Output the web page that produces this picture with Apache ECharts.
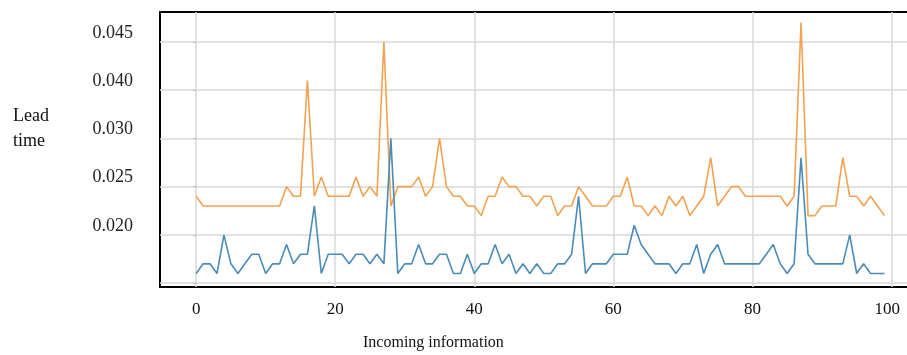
<!DOCTYPE html>
<html>
<head>
<meta charset="utf-8">
<script src="https://cdn.jsdelivr.net/npm/echarts@6/dist/echarts.min.js"></script>
<style>
html,body{margin:0;padding:0;background:#fff;}
#LeadChart{width:907px;height:355px;}
</style>
</head>
<body>
<div id="LeadChart"></div>
<script>
// values, one point per incoming information (0..99)
var upperSeries = [
	0.024, 0.023, 0.023, 0.023, 0.023, 0.023, 0.023, 0.023, 0.023, 0.023,
	0.023, 0.023, 0.023, 0.025, 0.024, 0.024, 0.036, 0.024, 0.026, 0.024,
	0.024, 0.024, 0.024, 0.026, 0.024, 0.025, 0.024, 0.040, 0.023, 0.025,
	0.025, 0.025, 0.026, 0.024, 0.025, 0.030, 0.025, 0.024, 0.024, 0.023,
	0.023, 0.022, 0.024, 0.024, 0.026, 0.025, 0.025, 0.024, 0.024, 0.023,
	0.024, 0.024, 0.022, 0.023, 0.023, 0.025, 0.024, 0.023, 0.023, 0.023,
	0.024, 0.024, 0.026, 0.023, 0.023, 0.022, 0.023, 0.022, 0.024, 0.023,
	0.024, 0.022, 0.023, 0.024, 0.028, 0.023, 0.024, 0.025, 0.025, 0.024,
	0.024, 0.024, 0.024, 0.024, 0.024, 0.023, 0.024, 0.042, 0.022, 0.022,
	0.023, 0.023, 0.023, 0.028, 0.024, 0.024, 0.023, 0.024, 0.023, 0.022
];
var lowerSeries = [
	0.016, 0.017, 0.017, 0.016, 0.020, 0.017, 0.016, 0.017, 0.018, 0.018,
	0.016, 0.017, 0.017, 0.019, 0.017, 0.018, 0.018, 0.023, 0.016, 0.018,
	0.018, 0.018, 0.017, 0.018, 0.018, 0.017, 0.018, 0.017, 0.030, 0.016,
	0.017, 0.017, 0.019, 0.017, 0.017, 0.018, 0.018, 0.016, 0.016, 0.018,
	0.016, 0.017, 0.017, 0.019, 0.017, 0.018, 0.016, 0.017, 0.016, 0.017,
	0.016, 0.016, 0.017, 0.017, 0.018, 0.024, 0.016, 0.017, 0.017, 0.017,
	0.018, 0.018, 0.018, 0.021, 0.019, 0.018, 0.017, 0.017, 0.017, 0.016,
	0.017, 0.017, 0.019, 0.016, 0.018, 0.019, 0.017, 0.017, 0.017, 0.017,
	0.017, 0.017, 0.018, 0.019, 0.017, 0.016, 0.017, 0.028, 0.018, 0.017,
	0.017, 0.017, 0.017, 0.017, 0.020, 0.016, 0.017, 0.016, 0.016, 0.016
];
var xTicks = [0, 20, 40, 60, 80, 100];
var yTicks = [0.015, 0.020, 0.025, 0.030, 0.035, 0.040];
// the picture prints these texts at the grid lines above
var yTickLabels = ['', '0.020', '0.025', '0.030', '0.040', '0.045'];

(function(){
	var chartDom = document.getElementById('LeadChart');
	var chart = echarts.init(chartDom);
	var serif = '"Liberation Serif", "DejaVu Serif", serif';

	function toPairs(arr){
		return arr.map(function(v, i){ return [i, v]; });
	}

	var option = {
		animation: false,
		backgroundColor: '#fff',
		grid: {
			left: 160,
			right: -6,
			top: 12,
			bottom: 68,
			outerBoundsMode: 'none',
			containLabel: false,
			show: true,
			borderColor: '#000',
			borderWidth: 2
		},
		xAxis: {
			type: 'value',
			min: -5.2,
			max: 103.1,
			axisLine: {show: false},
			axisTick: {show: false, customValues: xTicks},
			splitLine: {show: true, lineStyle: {color: '#d9d9d9', width: 1.5}},
			axisLabel: {
				customValues: xTicks,
				margin: 14,
				fontFamily: serif,
				fontSize: 17,
				color: '#111',
				formatter: function(v){
					// last label sits a little left of its grid line in the picture
					return v === 100 ? '100  ' : String(v);
				}
			}
		},
		yAxis: {
			type: 'value',
			min: 0.0146,
			max: 0.0431,
			axisLine: {show: false},
			axisTick: {show: true, length: 3, customValues: yTicks, lineStyle: {color: '#bbb'}},
			splitLine: {show: true, lineStyle: {color: '#d9d9d9', width: 1.5}},
			axisLabel: {
				customValues: yTicks,
				margin: 27,
				verticalAlign: 'bottom',
				lineHeight: 18,
				fontFamily: serif,
				fontSize: 18,
				color: '#222',
				formatter: function(v){
					for (var i = 0; i < yTicks.length; i++) {
						if (Math.abs(yTicks[i] - v) < 1e-6) return yTickLabels[i];
					}
					return '';
				}
			}
		},
		graphic: [
			{
				type: 'text',
				left: 13,
				top: 104,
				style: {
					text: 'Lead\ntime',
					font: '18px ' + serif,
					lineHeight: 25,
					fill: '#111'
				}
			},
			{
				type: 'text',
				left: 363,
				top: 335,
				style: {
					text: 'Incoming information',
					font: '16px ' + serif,
					fill: '#111'
				}
			}
		],
		series: [
			{
				name: 'upper',
				type: 'line',
				data: toPairs(upperSeries),
				showSymbol: false,
				clip: false,
				lineStyle: {color: '#f2a250', width: 1.6},
				itemStyle: {color: '#f2a250'}
			},
			{
				name: 'lower',
				type: 'line',
				data: toPairs(lowerSeries),
				showSymbol: false,
				clip: false,
				lineStyle: {color: '#4a8cb8', width: 1.6},
				itemStyle: {color: '#4a8cb8'}
			}
		]
	};
	chart.setOption(option);
})();
</script>
</body>
</html>
